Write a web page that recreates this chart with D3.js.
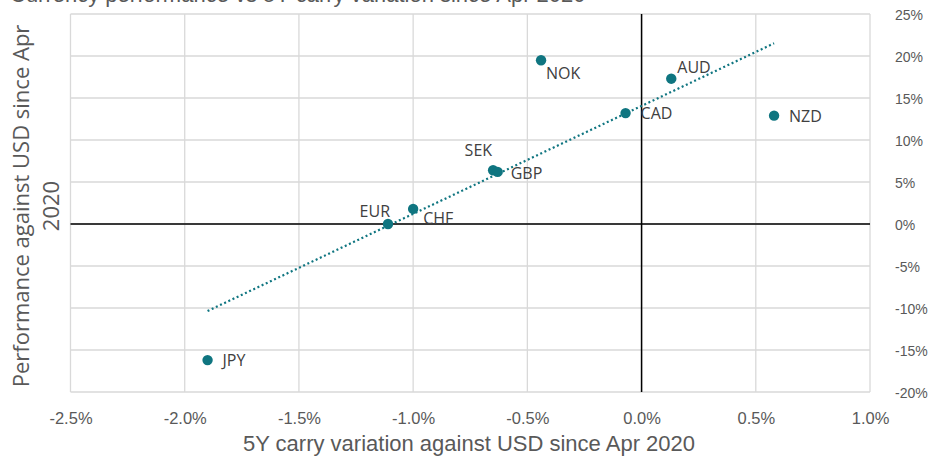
<!DOCTYPE html>
<html>
<head>
<meta charset="utf-8">
<script src="https://cdn.jsdelivr.net/npm/d3@7"></script>
<style>
  html, body { margin: 0; padding: 0; background: #ffffff; overflow: hidden; }
  svg { display: block; }
</style>
</head>
<body>
<svg id="chart" width="931" height="460"></svg>
<script>
// Currency data: carry variation (x, %) vs spot performance against USD (y, %)
const currencies = ["NOK", "AUD", "CAD", "NZD", "SEK", "GBP", "CHF", "EUR", "JPY"];
const carryChange = [-0.44, 0.13, -0.07, 0.58, -0.65, -0.63, -1.00, -1.11, -1.90];
const performance = [19.5, 17.3, 13.2, 12.9, 6.4, 6.2, 1.8, 0.0, -16.2];

const xTicks = [-2.5, -2.0, -1.5, -1.0, -0.5, 0.0, 0.5, 1.0];
const yTicks = [25, 20, 15, 10, 5, 0, -5, -10, -15, -20];

const chartTitle = "Currency performance vs 5Y carry variation since Apr 2020";
const xTitle = "5Y carry variation against USD since Apr 2020";
const yTitleLines = ["Performance against USD since Apr", "2020"];

const svg = d3.select("#chart");
const plot = { left: 70.5, right: 870, top: 14, bottom: 392 };

const x = d3.scaleLinear().domain([-2.5, 1.0]).range([plot.left, plot.right]);
const y = d3.scaleLinear().domain([-20, 25]).range([plot.bottom, plot.top]);

const teal = "#0f7580";
const grid = "#d9d9d9";
const textGray = "#595959";
const sans = "'Liberation Sans', Arial, sans-serif";
const labelFont = "'Open Sans', sans-serif";

// plain hyphen for negatives
const pct = (v, digits) => (v < 0 ? "-" : "") + Math.abs(v).toFixed(digits) + "%";

// Title (sits mostly above the visible area)
svg.append("text")
  .attr("x", 10).attr("y", 2)
  .attr("font-family", sans)
  .attr("font-size", 22)
  .attr("fill", textGray)
  .text(chartTitle);

// Gridlines
svg.append("g").selectAll("line").data(xTicks).join("line")
  .attr("x1", d => x(d)).attr("x2", d => x(d))
  .attr("y1", plot.top).attr("y2", plot.bottom)
  .attr("stroke", grid).attr("stroke-width", 1.3);

svg.append("g").selectAll("line").data(yTicks).join("line")
  .attr("x1", plot.left).attr("x2", plot.right)
  .attr("y1", d => y(d)).attr("y2", d => y(d))
  .attr("stroke", grid).attr("stroke-width", 1.3);

// Zero axes
svg.append("line")
  .attr("x1", plot.left).attr("x2", plot.right)
  .attr("y1", y(0)).attr("y2", y(0))
  .attr("stroke", "#000").attr("stroke-width", 1.5);
svg.append("line")
  .attr("x1", x(0)).attr("x2", x(0))
  .attr("y1", plot.top).attr("y2", plot.bottom)
  .attr("stroke", "#000").attr("stroke-width", 1.5);

// Bottom axis labels
const xAxis = d3.axisBottom(x).tickValues(xTicks)
  .tickFormat(d => pct(d, 1)).tickSize(0).tickPadding(0);
const gx = svg.append("g").attr("transform", `translate(0, ${plot.bottom + 32})`).call(xAxis);
gx.select(".domain").remove();
gx.selectAll("text")
  .attr("dy", 0)
  .attr("font-family", sans)
  .attr("font-size", 16.5)
  .attr("fill", textGray);

// Right axis labels
const yAxis = d3.axisRight(y).tickValues(yTicks)
  .tickFormat(d => pct(d, 0)).tickSize(0).tickPadding(0);
const gy = svg.append("g").attr("transform", `translate(895, 0)`).call(yAxis);
gy.select(".domain").remove();
gy.selectAll("text")
  .attr("dy", "0.36em")
  .attr("font-family", sans)
  .attr("font-size", 14)
  .attr("fill", textGray);

// Axis titles
svg.append("text")
  .attr("x", 469).attr("y", 451)
  .attr("text-anchor", "middle")
  .attr("font-family", sans)
  .attr("font-size", 22)
  .attr("fill", textGray)
  .text(xTitle);

const yt = svg.append("text")
  .attr("transform", `translate(29, 206) rotate(-90)`)
  .attr("text-anchor", "middle")
  .attr("font-family", labelFont)
  .attr("font-size", 22)
  .attr("fill", textGray);
yTitleLines.forEach((line, i) => {
  yt.append("tspan").attr("x", 0).attr("dy", i === 0 ? "0" : "1.36em").text(line);
});

// Linear trend line fitted to the points
const pts = currencies.map((c, i) => ({ name: c, cx: carryChange[i], cy: performance[i] }));
const mx = d3.mean(pts, p => p.cx), my = d3.mean(pts, p => p.cy);
const slope = d3.sum(pts, p => (p.cx - mx) * (p.cy - my)) / d3.sum(pts, p => (p.cx - mx) ** 2);
const intercept = my - slope * mx;
const [x0, x1] = d3.extent(carryChange);
svg.append("line")
  .attr("x1", x(x0)).attr("y1", y(intercept + slope * x0))
  .attr("x2", x(x1)).attr("y2", y(intercept + slope * x1))
  .attr("stroke", teal).attr("stroke-width", 2.2)
  .attr("stroke-dasharray", "2 2.6");

// Points
svg.append("g").selectAll("circle").data(pts).join("circle")
  .attr("cx", p => x(p.cx)).attr("cy", p => y(p.cy))
  .attr("r", 5.2).attr("fill", teal);

// Data labels, placed beside each point
const labelPlacement = {
  NOK: { dx: 5, dy: 19, anchor: "start" },
  AUD: { dx: 6, dy: -6, anchor: "start" },
  CAD: { dx: 15, dy: 6, anchor: "start" },
  NZD: { dx: 15, dy: 6, anchor: "start" },
  SEK: { dx: -1, dy: -14, anchor: "end" },
  GBP: { dx: 13, dy: 7, anchor: "start" },
  CHF: { dx: 10, dy: 15, anchor: "start" },
  EUR: { dx: 2, dy: -7, anchor: "end" },
  JPY: { dx: 15, dy: 6, anchor: "start" }
};
svg.append("g").selectAll("text").data(pts).join("text")
  .attr("x", p => x(p.cx) + labelPlacement[p.name].dx)
  .attr("y", p => y(p.cy) + labelPlacement[p.name].dy)
  .attr("text-anchor", p => labelPlacement[p.name].anchor)
  .attr("font-family", labelFont)
  .attr("font-size", 16)
  .attr("fill", "#404040")
  .text(p => p.name);
</script>
</body>
</html>
